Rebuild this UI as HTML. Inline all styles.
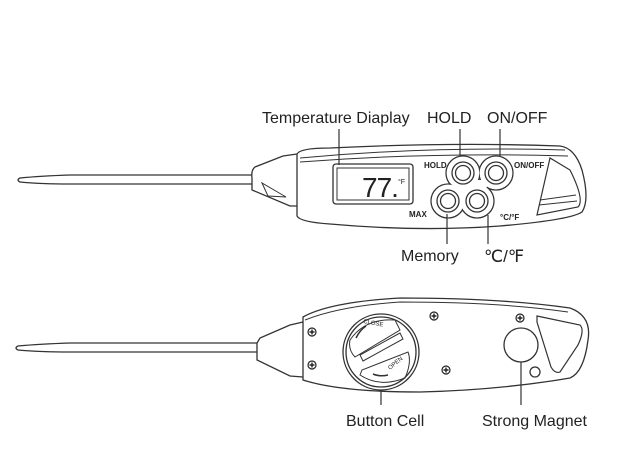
<!DOCTYPE html>
<html><head><meta charset="utf-8"><style>
html,body{margin:0;padding:0;background:#fff;}
svg{display:block;font-family:"Liberation Sans",sans-serif;}
</style></head><body>
<svg width="630" height="470" viewBox="0 0 630 470" xmlns="http://www.w3.org/2000/svg">
<g fill="none" stroke="#333" stroke-width="1.3">
<!-- TOP DEVICE -->
<path d="M252,175 L70,175 Q40,176 20,178 Q16,180 20,182 Q40,184 70,184 L252,184" fill="#fff"/>
<path d="M297,154 L283,156 L255,167 Q251,170 252,178 L252,190 L290,206 L297,206" fill="#fff"/>
<path d="M262,183 L268,196 L286,197 Z" stroke-width="1"/>
<path d="M297,154 Q300,148 330,148 Q450,142 560,146 Q575,148 582,170 Q590,200 582,212 Q570,220 500,226 Q420,232 330,224 Q300,222 297,216 Z" fill="#fff"/>
<path d="M300,158 Q430,146 565,150" stroke-width="1"/>
<path d="M300,162 Q430,152 568,156" stroke-width="1"/>
<rect x="333" y="164" width="80" height="40" rx="3" fill="#fff"/>
<rect x="337" y="168" width="72" height="32" stroke-width="1"/>
<path d="M550,158 L537,215 L578,207 Q585,200 570,170 Z" stroke-width="1.2"/>
<path d="M540,200 L576,195 M539,205 L577,201" stroke-width="1"/>
<!-- button cluster union outline -->
<g stroke-width="1.3" fill="#fff">
<circle cx="463" cy="173" r="17"/><circle cx="496" cy="173" r="17"/>
<circle cx="448" cy="201" r="17"/><circle cx="477" cy="201" r="17"/>
</g>
<g stroke="none" fill="#fff">
<circle cx="463" cy="173" r="16.2"/><circle cx="496" cy="173" r="16.2"/>
<circle cx="448" cy="201" r="16.2"/><circle cx="477" cy="201" r="16.2"/>
<path d="M455,180 L492,180 L480,196 L452,196 Z"/>
</g>
<circle cx="463" cy="173" r="11"/><circle cx="463" cy="173" r="7.5"/>
<circle cx="496" cy="173" r="11"/><circle cx="496" cy="173" r="7.5"/>
<circle cx="448" cy="201" r="11"/><circle cx="448" cy="201" r="7.5"/>
<circle cx="477" cy="201" r="11"/><circle cx="477" cy="201" r="7.5"/>
<!-- leaders -->
<path d="M339,129 L339,165 M460,129 L460,156 M500,129 L500,156 M447,214 L447,244 M488,215 L488,244" stroke-width="1.2"/>
<!-- BOTTOM DEVICE -->
<path d="M257,343 L70,343 Q40,344 18,346 Q14,348 18,350 Q40,352 70,352 L257,352" fill="#fff"/>
<path d="M303,322 L290,325 L260,338 L257,343 L257,360 L290,376 L303,377" fill="#fff"/>
<path d="M303,317 Q330,302 400,298 Q500,298 570,308 Q592,316 588,340 Q584,372 570,378 Q500,390 420,392 Q340,392 303,380 Z" fill="#fff"/>
<path d="M305,320 Q340,306 400,302 Q500,302 568,312" stroke-width="1"/>
<path d="M303,322 L303,377" stroke-width="1"/>
<circle cx="381" cy="352" r="38"/>
<circle cx="381" cy="352" r="35"/>
<path d="M350,340 Q365,318 395,320 L400,330 L355,357 Q348,350 350,340 Z" stroke-width="1"/>
<path d="M360,375 Q380,388 405,378 Q412,362 408,352 L362,370 Z" stroke-width="1"/>
<path d="M360,355 L400,333 L403,339 L363,361 Z" stroke-width="1"/>
<path d="M356,338 Q360,330 366,326 M373,374 Q380,377 388,375" stroke-width="1.5"/>
<circle cx="521" cy="345" r="17"/>
<circle cx="535" cy="372" r="5"/>
<path d="M537,316 L580,325 Q585,330 578,345 L560,372 Q555,374 551,367 L537,322 Z" stroke-width="1.2"/>
<path d="M381,390 L381,405 M521,362 L521,405" stroke-width="1.2"/>
</g>
<g fill="#fff" stroke="#222" stroke-width="1.2">
<circle cx="312" cy="332" r="4"/><circle cx="312" cy="365" r="4"/>
<circle cx="434" cy="316" r="4"/><circle cx="446" cy="370" r="4"/>
<circle cx="520" cy="318" r="4"/>
</g>
<g stroke="#222" stroke-width="1.4">
<path d="M309.5,332 h5 M312,329.5 v5 M309.5,365 h5 M312,362.5 v5 M431.5,316 h5 M434,313.5 v5 M443.5,370 h5 M446,367.5 v5 M517.5,318 h5 M520,315.5 v5"/>
</g>
<g fill="#222">
<text x="362" y="197" font-size="28" letter-spacing="-1">77.</text>
<text x="398" y="184" font-size="7">°F</text>
<text x="262" y="123" font-size="16">Temperature Diaplay</text>
<text x="427" y="123" font-size="16">HOLD</text>
<text x="487" y="123" font-size="16">ON/OFF</text>
<text x="424" y="168" font-size="8" font-weight="bold">HOLD</text>
<text x="514" y="168" font-size="8" font-weight="bold">ON/OFF</text>
<text x="409" y="217" font-size="8" font-weight="bold">MAX</text>
<text x="500" y="220" font-size="8" font-weight="bold">°C/°F</text>
<text x="401" y="261" font-size="16">Memory</text>
<text x="484" y="262" font-size="17">℃/℉</text>
<text x="363" y="323" font-size="6" transform="rotate(10 363 323)">CLOSE</text>
<text x="390" y="370" font-size="6" transform="rotate(-40 390 370)">OPEN</text>
<text x="346" y="426" font-size="16">Button Cell</text>
<text x="482" y="426" font-size="16">Strong Magnet</text>
</g>
</svg>
</body></html>
